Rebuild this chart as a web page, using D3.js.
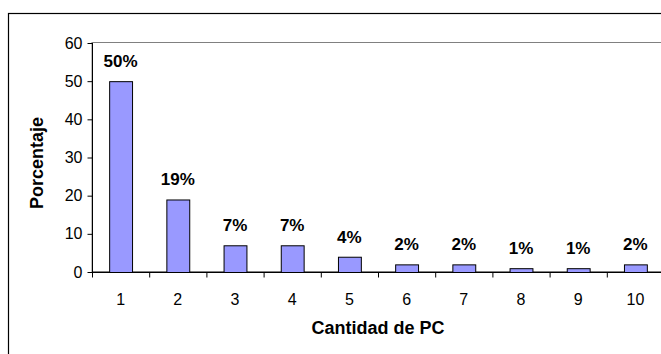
<!DOCTYPE html>
<html>
<head>
<meta charset="utf-8">
<script src="https://cdn.jsdelivr.net/npm/d3@7"></script>
<style>
  html, body { margin: 0; padding: 0; background: #fff; }
  svg { display: block; font-family: "Liberation Sans", Arial, sans-serif; }
</style>
</head>
<body>
<svg id="chart" width="661" height="354"></svg>
<script>
// Distribution of the number of PCs per household (percentage)
const categories = ["1", "2", "3", "4", "5", "6", "7", "8", "9", "10"];
const values = [50, 19, 7, 7, 4, 2, 2, 1, 1, 2];
const valueLabels = ["50%", "19%", "7%", "7%", "4%", "2%", "2%", "1%", "1%", "2%"];
const yTicks = [0, 10, 20, 30, 40, 50, 60];
const xTitle = "Cantidad de PC";
const yTitle = "Porcentaje";

const svg = d3.select("#chart");

// Outer chart frame
svg.append("rect")
  .attr("x", 8.5).attr("y", 13.5)
  .attr("width", 700).attr("height", 400)
  .attr("fill", "#fff").attr("stroke", "#000").attr("stroke-width", 1.2);

const plot = { left: 92, top: 43, right: 664, bottom: 272 };

// Plot area border
svg.append("rect")
  .attr("x", plot.left).attr("y", plot.top - 0.5)
  .attr("width", plot.right - plot.left + 20).attr("height", plot.bottom - plot.top)
  .attr("fill", "none").attr("stroke", "#808080").attr("stroke-width", 1);

const xb = d3.scaleBand().domain(categories).range([plot.left, plot.right]);
const y = d3.scaleLinear().domain([0, 60]).range([plot.bottom, plot.top]);

// Bars
svg.append("g").selectAll("rect")
  .data(values)
  .join("rect")
  .attr("x", (d, i) => xb(categories[i]) + xb.bandwidth() * 0.3 + 0.5)
  .attr("y", d => y(d) + 0.5)
  .attr("width", xb.bandwidth() * 0.4)
  .attr("height", d => plot.bottom - y(d))
  .attr("fill", "#9999FF")
  .attr("stroke", "#000")
  .attr("stroke-width", 1);

// Value labels
svg.append("g").selectAll("text")
  .data(values)
  .join("text")
  .attr("x", (d, i) => xb(categories[i]) + xb.bandwidth() / 2)
  .attr("y", d => y(d) - 14)
  .attr("text-anchor", "middle")
  .attr("font-size", 17)
  .attr("font-weight", "bold")
  .attr("fill", "#000")
  .text((d, i) => valueLabels[i]);

// Y axis
const yAxis = svg.append("g")
  .attr("transform", `translate(${plot.left + 0.5},0)`)
  .call(d3.axisLeft(y).tickValues(yTicks).tickSize(5).tickPadding(5));
yAxis.select(".domain").attr("stroke", "#000").attr("d", `M0,${plot.top}V${plot.bottom}`);
yAxis.selectAll("text").attr("font-size", 16).attr("font-family", "Liberation Sans, Arial, sans-serif").attr("fill", "#000");

// X axis with ticks between categories
const xAxisG = svg.append("g").attr("transform", `translate(0,${plot.bottom + 0.5})`);
xAxisG.append("line")
  .attr("x1", plot.left).attr("x2", 661)
  .attr("stroke", "#000").attr("stroke-width", 1);
xAxisG.selectAll("line.tick")
  .data(categories)
  .join("line")
  .attr("class", "tick")
  .attr("x1", d => xb(d) + 0.5).attr("x2", d => xb(d) + 0.5)
  .attr("y1", 0).attr("y2", 5)
  .attr("stroke", "#000");
xAxisG.selectAll("text")
  .data(categories)
  .join("text")
  .attr("x", d => xb(d) + xb.bandwidth() / 2)
  .attr("y", 32)
  .attr("text-anchor", "middle")
  .attr("font-size", 16)
  .attr("fill", "#000")
  .text(d => d);

// Axis titles
svg.append("text")
  .attr("x", (plot.left + plot.right) / 2)
  .attr("y", 334)
  .attr("text-anchor", "middle")
  .attr("font-size", 18)
  .attr("font-weight", "bold")
  .text(xTitle);

svg.append("text")
  .attr("transform", `translate(43,163) rotate(-90)`)
  .attr("text-anchor", "middle")
  .attr("font-size", 18)
  .attr("font-weight", "bold")
  .text(yTitle);
</script>
</body>
</html>
